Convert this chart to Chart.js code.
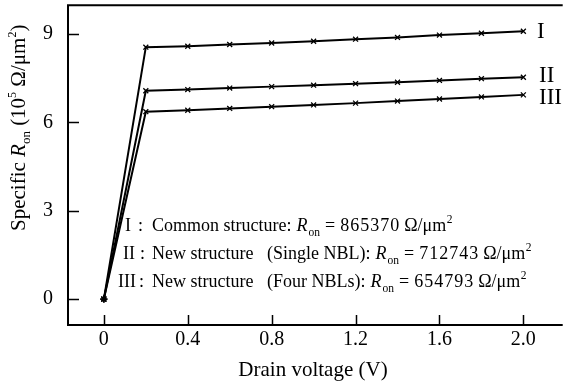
<!DOCTYPE html>
<html>
<head>
<meta charset="utf-8">
<script src="https://cdn.jsdelivr.net/npm/chart.js@4/dist/chart.umd.min.js"></script>
<style>
  html, body { margin: 0; padding: 0; background: #fff; }
  #wrap { width: 566px; height: 382px; }
</style>
</head>
<body>
<div id="wrap"><canvas id="ronChart" width="566" height="382"></canvas></div>
<script>
// drain voltage (V) and specific Ron (10^5 ohm/um^2)
const voltage = [0, 0.2, 0.4, 0.6, 0.8, 1.0, 1.2, 1.4, 1.6, 1.8, 2.0];
const ronCommon = [0, 8.55, 8.58, 8.64, 8.69, 8.75, 8.82, 8.88, 8.96, 9.02, 9.09];
const ronSingleNbl = [0, 7.07, 7.11, 7.16, 7.21, 7.26, 7.31, 7.36, 7.42, 7.48, 7.53];
const ronFourNbl = [0, 6.36, 6.41, 6.47, 6.53, 6.59, 6.65, 6.72, 6.79, 6.86, 6.93];
const seriesNames = ['I', 'II', 'III'];
const xTicks = [0, 0.4, 0.8, 1.2, 1.6, 2.0];
const xTickLabels = ['0', '0.4', '0.8', '1.2', '1.6', '2.0'];
const yTicks = [0, 3, 6, 9];
const yTickLabels = ['0', '3', '6', '9'];
const noteHeads = ['Common structure:', 'New structure', 'New structure'];
const noteTails = ['', '(Single NBL):', '(Four NBLs):'];
const noteValues = ['865370', '712743', '654793'];

const SERIF = '"Liberation Serif", "Times New Roman", serif';

function toPoints(ys) {
    return voltage.map((v, i) => ({ x: v, y: ys[i] }));
}

function makeSet(label, ys) {
    return {
        label: label,
        data: toPoints(ys),
        borderColor: '#000',
        backgroundColor: '#000',
        borderWidth: 2,
        pointStyle: ys.map((_, i) => i === 0 ? 'star' : 'crossRot'),
        pointRadius: 3.5,
        pointBorderWidth: 1.3,
        tension: 0
    };
}

function setFont(ctx, size, italic) {
    ctx.font = (italic ? 'italic ' : '') + size + 'px ' + SERIF;
}

// baseline and x anchors for each note line (numeral right edge, colon, head, tail)
const noteLayout = [
    { y: 231, num: 131, colon: 138, head: 152, tail: 0 },
    { y: 259, num: 135, colon: 140, head: 152, tail: 267 },
    { y: 287, num: 136, colon: 139, head: 152, tail: 267 }
];

const decorPlugin = {
    id: 'decor',
    afterDraw(chart) {
        const ctx = chart.ctx;
        const a = chart.chartArea;
        const xs = chart.scales.x, ys = chart.scales.y;
        ctx.save();
        ctx.strokeStyle = '#000';
        ctx.fillStyle = '#000';

        // frame: left, bottom, top
        ctx.lineWidth = 2;
        ctx.beginPath();
        ctx.moveTo(a.right + 2, a.top);
        ctx.lineTo(a.left, a.top);
        ctx.lineTo(a.left, a.bottom);
        ctx.lineTo(a.right + 2, a.bottom);
        ctx.stroke();

        // inward tick marks
        ctx.lineWidth = 1.5;
        ctx.beginPath();
        xs.ticks.forEach(t => {
            const px = Math.round(xs.getPixelForValue(t.value)) + 0.5;
            ctx.moveTo(px, a.bottom);
            ctx.lineTo(px, a.bottom - 10);
        });
        ys.ticks.forEach(t => {
            const py = Math.round(ys.getPixelForValue(t.value)) + 0.5;
            ctx.moveTo(a.left, py);
            ctx.lineTo(a.left + 11, py);
        });
        ctx.stroke();

        ctx.textBaseline = 'alphabetic';
        ctx.textAlign = 'left';

        // x axis title
        setFont(ctx, 21);
        const xt = 'Drain voltage (V)';
        ctx.fillText(xt, 313 - ctx.measureText(xt).width / 2, 376);

        // y axis title, rotated
        ctx.save();
        ctx.translate(25, 231);
        ctx.rotate(-Math.PI / 2);
        let x = 0;
        const yParts = [
            { t: 'Specific ', size: 21 },
            { t: 'R', size: 21, italic: true },
            { t: 'on', size: 13, dy: 5 },
            { t: ' (10', size: 21 },
            { t: '5', size: 12, dy: -9 },
            { t: ' \u03A9/\u03BCm', size: 21 },
            { t: '2', size: 12, dy: -9 },
            { t: ')', size: 21 }
        ];
        yParts.forEach(p => {
            setFont(ctx, p.size, p.italic);
            ctx.fillText(p.t, x, p.dy || 0);
            x += ctx.measureText(p.t).width;
        });
        ctx.restore();

        // notes, pieces laid out one after the other
        noteLayout.forEach((L, i) => {
            const y = L.y;
            setFont(ctx, 18);
            ctx.textAlign = 'right';
            ctx.fillText(seriesNames[i], L.num, y);
            ctx.textAlign = 'left';
            ctx.fillText(':', L.colon, y);
            ctx.fillText(noteHeads[i], L.head, y);
            let cx = L.head + ctx.measureText(noteHeads[i]).width;
            if (noteTails[i]) {
                ctx.fillText(noteTails[i], L.tail, y);
                cx = L.tail + ctx.measureText(noteTails[i]).width;
            }
            cx += 5;
            setFont(ctx, 18, true);
            ctx.fillText('R', cx, y);
            cx += ctx.measureText('R').width + 1;
            setFont(ctx, 11.5);
            ctx.fillText('on', cx, y + 5);
            cx += ctx.measureText('on').width + 5;
            setFont(ctx, 18);
            ctx.fillText('=', cx, y);
            cx += ctx.measureText('=').width + 5;
            ctx.letterSpacing = '1px';
            ctx.fillText(noteValues[i], cx, y);
            cx += ctx.measureText(noteValues[i]).width + 4;
            ctx.letterSpacing = '0px';
            const u = '\u03A9/\u03BCm';
            ctx.fillText(u, cx, y);
            cx += ctx.measureText(u).width + 0.5;
            setFont(ctx, 11.5);
            ctx.fillText('2', cx, y - 8);
        });

        // curve labels at the right end
        setFont(ctx, 23);
        const lastIdx = voltage.length - 1;
        const ends = [ronCommon[lastIdx], ronSingleNbl[lastIdx], ronFourNbl[lastIdx]];
        const offs = [7, 5, 9];
        const lx = [537, 539, 539];
        seriesNames.forEach((s, i) => {
            ctx.fillText(s, lx[i], ys.getPixelForValue(ends[i]) + offs[i]);
        });

        ctx.restore();
    }
};

function clearPad(s) {
    s.paddingTop = 0;
    s.paddingBottom = 0;
    s.paddingLeft = 0;
    s.paddingRight = 0;
}

const ctx = document.getElementById('ronChart').getContext('2d');
new Chart(ctx, {
    type: 'line',
    data: {
        datasets: [
            makeSet(seriesNames[0], ronCommon),
            makeSet(seriesNames[1], ronSingleNbl),
            makeSet(seriesNames[2], ronFourNbl)
        ]
    },
    options: {
        responsive: false,
        animation: false,
        devicePixelRatio: 1,
        layout: { padding: { top: 5, right: 0, left: 0, bottom: 0 } },
        plugins: {
            legend: { display: false },
            title: { display: false },
            tooltip: { enabled: false }
        },
        scales: {
            x: {
                type: 'linear',
                min: -0.171,
                max: 2.178,
                grid: { display: false, drawTicks: false },
                border: { display: false },
                afterFit: s => { s.height = 57; clearPad(s); },
                afterBuildTicks: s => { s.ticks = xTicks.map(v => ({ value: v })); },
                ticks: {
                    autoSkip: false,
                    maxRotation: 0,
                    padding: 3,
                    color: '#000',
                    font: { family: SERIF, size: 20 },
                    callback: (v) => xTickLabels[xTicks.indexOf(v)]
                }
            },
            y: {
                min: -0.88,
                max: 9.97,
                grid: { display: false, drawTicks: false },
                border: { display: false },
                afterFit: s => { s.width = 68; clearPad(s); },
                afterBuildTicks: s => { s.ticks = yTicks.map(v => ({ value: v })); },
                ticks: {
                    autoSkip: false,
                    padding: 15,
                    color: '#000',
                    font: { family: SERIF, size: 20 },
                    callback: (v) => yTickLabels[yTicks.indexOf(v)]
                }
            }
        }
    },
    plugins: [decorPlugin]
});
</script>
</body>
</html>
